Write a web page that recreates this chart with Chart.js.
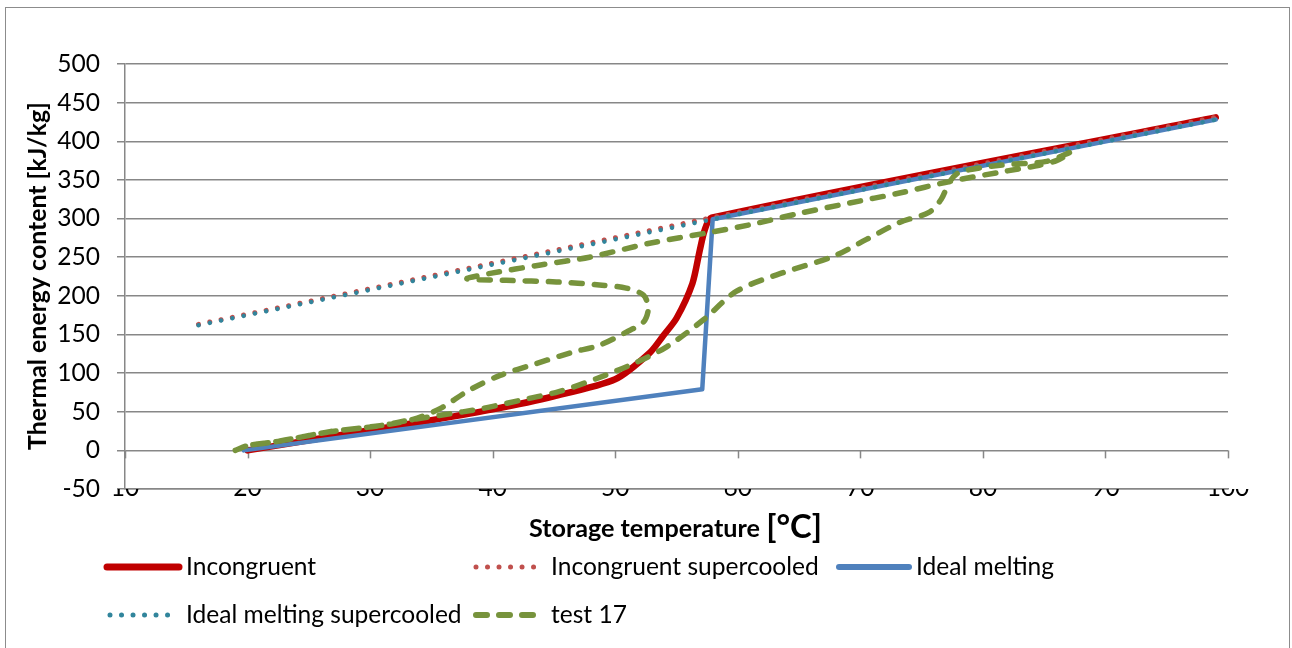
<!DOCTYPE html>
<html><head><meta charset="utf-8">
<script src="https://cdn.jsdelivr.net/npm/chart.js@4.4.1/dist/chart.umd.min.js"></script>
<style>
html,body{margin:0;padding:0;background:#fff;}
#wrap{position:relative;width:1292px;height:648px;overflow:hidden;font-family:Lato,'Open Sans',sans-serif;background:#fff;}
#frame{position:absolute;left:5px;top:7px;width:1285px;height:660px;border:1.5px solid #8c8c8c;box-sizing:border-box;}
#c{position:absolute;left:0;top:0;}
.li{position:absolute;height:0;}
.li svg{position:absolute;top:-10px;}
.li span{position:absolute;top:0;transform:translateY(-52%);white-space:nowrap;color:#000;line-height:1;}
</style></head>
<body><div id="wrap"><div id="frame"></div><canvas id="c" width="1292" height="648"></canvas><div id="legend"></div></div>
<script>
// ---- data ----
const incongruentT = [20, 25, 30, 35, 40, 45, 50, 52.8, 53.9, 55, 56.3, 56.9, 57.3, 57.85, 99];
const incongruentE = [0, 13, 26, 39, 53, 70, 92, 126, 148, 171, 216, 259, 285, 301, 431];
const incSupercooledT = [16, 57.85, 99];
const incSupercooledE = [163, 301, 431];
const idealT = [19.7, 57.1, 57.95, 99];
const idealE = [0, 79, 299, 428];
const idealSupercooledT = [16, 57.95, 99];
const idealSupercooledE = [162, 299, 428];
const test17T = [19.0, 20, 22.6, 26.7, 30.8, 33.5, 36, 39.1, 42.3, 45.4, 48.5, 51.6, 54.2, 57.2, 59.9, 63.7, 67.8, 70.5, 73.2, 75.6, 76.6, 77.3, 78.1, 81.4, 85.2, 87.2, 86, 84.6, 81.4, 77.3, 73.2, 69.1, 65.1, 61, 57.7, 52.8, 47.9, 43.9, 39.8, 37.9, 41.1, 45.2, 48.7, 50.9, 52.3, 52.7, 52.3, 50.9, 48.7, 46.5, 43.5, 40.6, 38.1, 35.7, 33.5, 30.8, 26.7, 22.6, 20, 19.0];
const test17E = [0, 6, 12, 24, 32, 40, 46, 54, 65, 76, 93, 113, 134, 169, 206, 230, 251, 273, 295, 308, 325, 348, 360, 369, 374, 386, 375, 369, 360, 348, 333, 320, 307, 292, 282, 268, 250, 240, 229, 222, 220, 218, 214, 210, 201, 184, 166, 153, 136, 127, 112, 97, 78, 54, 40, 32, 24, 12, 6, 0];
const xTickLabels = [10, 20, 30, 40, 50, 60, 70, 80, 90, 100];
const yTickLabels = [-50, 0, 50, 100, 150, 200, 250, 300, 350, 400, 450, 500];
const seriesNames = ['Incongruent', 'Incongruent supercooled', 'Ideal melting', 'Ideal melting supercooled', 'test 17'];
const xTitle = 'Storage temperature ';
const xTitleUnit = '[°C]';
const yTitle = 'Thermal energy content [kJ/kg]';

const FONT = 'Lato';
const mctx = document.createElement('canvas').getContext('2d');
function fit(text, target, weight) {
  mctx.font = (weight || '') + ' 20px ' + FONT;
  return 20 * target / mctx.measureText(text).width;
}
const baseSize = fit('Incongruent supercooled', 268, '');
const pts = (xs, ys) => xs.map((x, i) => ({x: x, y: ys[i]}));
const GRID = '#878787';

const C = {
  red: '#C00000', redDot: '#C0504D', blue: '#4F81BD', teal: '#31859C', green: '#77933C'
};

const decor = {
  id: 'decor',
  beforeDatasetsDraw(chart) {
    const ctx = chart.ctx, xs = chart.scales.x, ys = chart.scales.y;
    const y0 = ys.getPixelForValue(0);
    ctx.save();
    ctx.strokeStyle = GRID; ctx.lineWidth = 1.5;
    xTickLabels.forEach(v => {
      const x = Math.round(xs.getPixelForValue(v)) + 0.5;
      ctx.beginPath(); ctx.moveTo(x, y0); ctx.lineTo(x, y0 + 8); ctx.stroke();
    });
    ctx.restore();
  },
  afterDraw(chart) {
    const ctx = chart.ctx;
    ctx.save();
    ctx.fillStyle = '#000';
    const ys = fit(yTitle, 348, 'bold');
    ctx.font = 'bold ' + ys + 'px ' + FONT;
    ctx.translate(46, 276);
    ctx.rotate(-Math.PI / 2);
    ctx.textAlign = 'center';
    ctx.textBaseline = 'alphabetic';
    ctx.fillText(yTitle, 0, 0);
    ctx.restore();
    ctx.save();
    ctx.fillStyle = '#000';
    let s1 = 21;
    ctx.font = 'bold ' + s1 + 'px ' + FONT;
    let w1 = ctx.measureText(xTitle).width;
    ctx.font = 'bold ' + (s1 * 1.3) + 'px ' + FONT;
    let w2 = ctx.measureText(xTitleUnit).width;
    const k = 293 / (w1 + w2);
    s1 = s1 * k; w1 *= k; w2 *= k;
    const x0 = 675.5 - (w1 + w2) / 2;
    ctx.textAlign = 'left'; ctx.textBaseline = 'alphabetic';
    ctx.font = 'bold ' + s1 + 'px ' + FONT;
    ctx.fillText(xTitle, x0, 537);
    ctx.font = 'bold ' + (s1 * 1.3) + 'px ' + FONT;
    ctx.fillText(xTitleUnit, x0 + w1, 538);
    ctx.restore();
  }
};

const ds = (label, xs, ys, color, width, dash, order, tension, cap) => ({
  label, data: pts(xs, ys), borderColor: color, backgroundColor: color, borderWidth: width,
  borderDash: dash, borderCapStyle: cap || 'butt', borderJoinStyle: 'round', showLine: true, pointRadius: 0,
  pointHoverRadius: 0, tension: tension, order: order, fill: false
});

new Chart(document.getElementById('c'), {
  type: 'scatter',
  data: {
    datasets: [
      ds(seriesNames[0], incongruentT, incongruentE, C.red, 6.5, [], 5, 0.25, 'round'),
      ds(seriesNames[1], incSupercooledT, incSupercooledE, C.redDot, 5, [0.01, 11.5], 4, 0, 'round'),
      ds(seriesNames[2], idealT, idealE, C.blue, 4.5, [], 3, 0, 'round'),
      ds(seriesNames[3], idealSupercooledT, idealSupercooledE, C.teal, 4.5, [0.01, 11.5], 2, 0, 'round'),
      ds(seriesNames[4], test17T, test17E, C.green, 5.5, [11, 12], 1, 0.3, 'round')
    ]
  },
  options: {
    responsive: false, animation: false, devicePixelRatio: 1,
    layout: { padding: { left: 0, top: 64, right: 64, bottom: 119 } },
    plugins: { legend: { display: false }, tooltip: { enabled: false } },
    scales: {
      x: {
        type: 'linear', min: 10, max: 100,
        afterBuildTicks: s => { s.ticks = xTickLabels.map(v => ({value: v})); },
        afterFit: s => { s.height = 40; },
        grid: { display: false, drawTicks: false },
        border: { display: true, color: GRID, width: 1.5 },
        ticks: { padding: -16, color: '#000', font: { family: FONT, size: baseSize }, maxRotation: 0, autoSkip: false }
      },
      y: {
        type: 'linear', min: -50, max: 500,
        afterBuildTicks: s => { s.ticks = yTickLabels.map(v => ({value: v})); },
        afterFit: s => { s.width = 125; },
        grid: { color: GRID, lineWidth: 1.5, drawTicks: true, tickLength: 8 },
        border: { display: true, color: GRID, width: 1.5 },
        ticks: { padding: 17, color: '#000', font: { family: FONT, size: baseSize }, autoSkip: false }
      }
    }
  },
  plugins: [decor]
});

// ---- legend (HTML) ----
const legendItems = [
  { name: seriesNames[0], x1: 107, x2: 179, tx: 186, y: 567, color: C.red, w: 7, dash: '' },
  { name: seriesNames[1], x1: 476, x2: 539, tx: 551, y: 567, color: C.redDot, w: 5, dash: '0.01 11.5' },
  { name: seriesNames[2], x1: 839, x2: 909, tx: 916, y: 567, color: C.blue, w: 6, dash: '' },
  { name: seriesNames[3], x1: 110, x2: 173, tx: 186, y: 615, color: C.teal, w: 5, dash: '0.01 11.5' },
  { name: seriesNames[4], x1: 476, x2: 536, tx: 551, y: 615, color: C.green, w: 6, dash: '11 12' }
];
const L = document.getElementById('legend');
legendItems.forEach(it => {
  const d = document.createElement('div');
  d.className = 'li';
  d.style.left = '0px'; d.style.top = it.y + 'px';
  const wsv = it.x2 - it.x1 + 10;
  d.innerHTML = `<svg width="${wsv}" height="20" style="left:${it.x1 - 5}px"><line x1="5" y1="10" x2="${wsv - 5}" y2="10" stroke="${it.color}" stroke-width="${it.w}" stroke-linecap="round" ${it.dash ? 'stroke-dasharray="' + it.dash + '"' : ''}/></svg><span style="left:${it.tx}px;font-size:${baseSize}px;font-family:${FONT}">${it.name}</span>`;
  L.appendChild(d);
});
</script>
</body></html>
